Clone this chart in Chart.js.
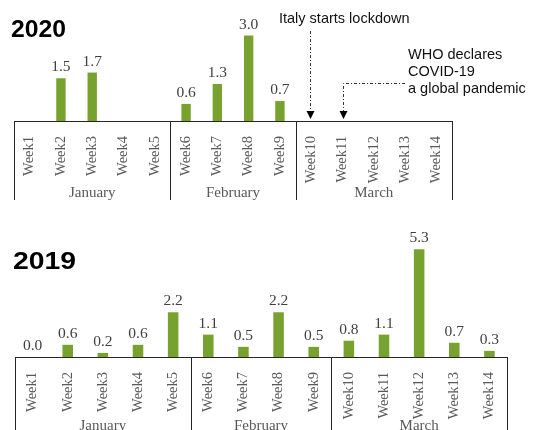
<!DOCTYPE html>
<html>
<head>
<meta charset="UTF-8">
<title>Weekly values 2020 / 2019</title>
<script src="https://cdn.jsdelivr.net/npm/chart.js"></script>
<style>
  body { margin: 0; background: #fff; }
  #wrap { position: relative; width: 534px; height: 430px; overflow: hidden; }
  canvas { position: absolute; left: 0; }
</style>
</head>
<body>
<div id="wrap">
  <canvas id="chart2020" width="534" height="210" style="top:0"></canvas>
  <canvas id="chart2019" width="534" height="210" style="top:220px"></canvas>
</div>
<script>
// weeks and the month each block of weeks belongs to
const weeks = ['Week1', 'Week2', 'Week3', 'Week4', 'Week5', 'Week6', 'Week7',
               'Week8', 'Week9', 'Week10', 'Week11', 'Week12', 'Week13', 'Week14'];
const months = ['January', 'February', 'March'];
const monthFirstWeek = [0, 5, 9];

const values2020 = [null, 1.5, 1.7, null, null, 0.6, 1.3, 3.0, 0.7, null, null, null, null, null];
const values2019 = [0.0, 0.6, 0.2, 0.6, 2.2, 1.1, 0.5, 2.2, 0.5, 0.8, 1.1, 5.3, 0.7, 0.3];

// events marked on the 2020 panel
const lockdownWeek = 'Week10';
const lockdownText = ['Italy starts lockdown'];
const pandemicWeek = 'Week11';
const pandemicText = ['WHO declares', 'COVID-19', 'a global pandemic'];

const GREEN = '#78a22f';
const SERIF = '"Liberation Serif", "DejaVu Serif", serif';
const SANS = '"Liberation Sans", Arial, sans-serif';

function arrowDown(ctx, x, yEnd) {
    ctx.beginPath();
    ctx.moveTo(x - 4, yEnd - 8);
    ctx.lineTo(x + 4, yEnd - 8);
    ctx.lineTo(x, yEnd);
    ctx.closePath();
    ctx.fill();
}

function makeChart(id, values, cfg) {
    // month boxes under the axis, value labels, title
    const decorations = {
        id: 'decorations',
        afterDatasetsDraw(chart) {
            const ctx = chart.ctx;
            const x = chart.scales.x;
            const bottom = chart.chartArea.bottom;
            const px = i => x.getPixelForValue(i);
            const half = (px(1) - px(0)) / 2;
            const edges = monthFirstWeek.map(i => px(i) - half);
            edges.push(px(weeks.length - 1) + half);

            ctx.save();
            ctx.strokeStyle = '#262626';
            ctx.lineWidth = 1;
            ctx.beginPath();
            ctx.moveTo(edges[0], bottom + 0.5);
            ctx.lineTo(edges[edges.length - 1], bottom + 0.5);
            edges.forEach(e => {
                ctx.moveTo(Math.round(e) + 0.5, bottom);
                ctx.lineTo(Math.round(e) + 0.5, bottom + cfg.boxDepth);
            });
            ctx.stroke();

            ctx.fillStyle = '#595959';
            ctx.font = '15px ' + SERIF;
            ctx.textAlign = 'center';
            ctx.textBaseline = 'middle';
            months.forEach((m, k) => {
                ctx.fillText(m, (edges[k] + edges[k + 1]) / 2, bottom + cfg.monthOffset);
            });

            // numbers above the bars
            ctx.fillStyle = '#404040';
            ctx.font = '15.5px ' + SERIF;
            ctx.textBaseline = 'alphabetic';
            chart.getDatasetMeta(0).data.forEach((bar, i) => {
                if (values[i] === null) return;
                ctx.fillText(values[i].toFixed(1), bar.x, bar.y - 7);
            });

            // panel title
            ctx.fillStyle = '#000';
            ctx.font = 'bold 24px ' + SANS;
            ctx.textAlign = 'left';
            ctx.translate(cfg.titleX, cfg.titleY);
            ctx.scale(cfg.titleStretch, 1);
            ctx.fillText(cfg.title, 0, 0);
            ctx.restore();

            if (cfg.events) cfg.events(chart);
        }
    };

    return new Chart(document.getElementById(id), {
        type: 'bar',
        data: {
            labels: weeks,
            datasets: [{
                data: values,
                backgroundColor: GREEN,
                borderWidth: 0,
                barPercentage: 0.3,
                categoryPercentage: 1.0
            }]
        },
        options: {
            responsive: false,
            animation: false,
            layout: { padding: cfg.padding },
            plugins: { legend: { display: false }, tooltip: { enabled: false } },
            scales: {
                x: {
                    grid: { display: false },
                    border: { display: false },
                    ticks: {
                        autoSkip: false,
                        minRotation: 90,
                        maxRotation: 90,
                        padding: 7,
                        color: '#595959',
                        font: { family: SERIF, size: 14.5 }
                    },
                    afterFit: s => { s.height = cfg.axisHeight; }
                },
                y: { display: false, min: 0, max: cfg.yMax }
            }
        },
        plugins: [decorations]
    });
}

// dashed arrows pointing at the weeks of the two events
function drawEvents(chart) {
    const ctx = chart.ctx;
    const x = chart.scales.x;
    const tip = chart.chartArea.bottom - 2;
    const xLock = x.getPixelForValue(weeks.indexOf(lockdownWeek)) - 1.5;
    const xWho = x.getPixelForValue(weeks.indexOf(pandemicWeek));

    ctx.save();
    ctx.font = '14.5px ' + SANS;
    ctx.fillStyle = '#111';
    ctx.textAlign = 'left';
    ctx.fillText(lockdownText[0], 279, 23);
    pandemicText.forEach((t, k) => ctx.fillText(t, 408, 59 + k * 17));

    ctx.strokeStyle = '#333';
    ctx.lineWidth = 1;
    ctx.setLineDash([3, 2, 1, 2]);
    ctx.beginPath();
    ctx.moveTo(Math.round(xLock) + 0.5, 31);
    ctx.lineTo(Math.round(xLock) + 0.5, tip - 7);
    ctx.moveTo(405, 83.5);
    ctx.lineTo(Math.round(xWho) + 0.5, 83.5);
    ctx.lineTo(Math.round(xWho) + 0.5, tip - 7);
    ctx.stroke();
    ctx.setLineDash([]);
    ctx.fillStyle = '#000';
    arrowDown(ctx, Math.round(xLock) + 0.5, tip);
    arrowDown(ctx, Math.round(xWho) + 0.5, tip);
    ctx.restore();
}

makeChart('chart2020', values2020, {
    title: '2020', titleX: 11, titleY: 37, titleStretch: 1.03,
    padding: { left: 14, right: 82, top: 7, bottom: 0 },
    axisHeight: 89, yMax: 4, boxDepth: 79, monthOffset: 72,
    events: drawEvents
});

makeChart('chart2019', values2019, {
    title: '2019', titleX: 13, titleY: 48.5, titleStretch: 1.18,
    padding: { left: 15, right: 27, top: 15, bottom: 0 },
    axisHeight: 73, yMax: 6, boxDepth: 80, monthOffset: 69
});
</script>
</body>
</html>
